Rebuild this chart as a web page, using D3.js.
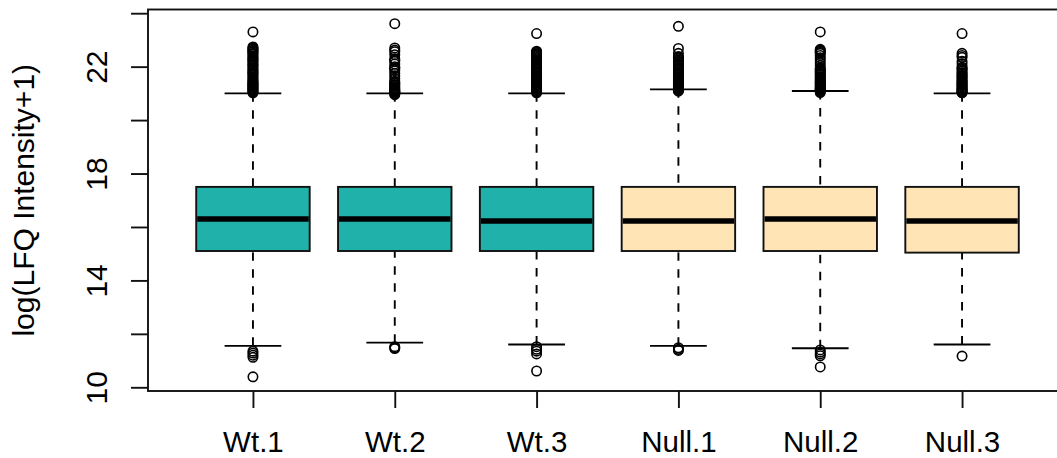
<!DOCTYPE html>
<html>
<head>
<meta charset="utf-8">
<title>LFQ intensity boxplot</title>
<script src="https://d3js.org/d3.v7.min.js"></script>
<style>
html, body {
	margin: 0;
	padding: 0;
	background: #fff;
}
#chart text {
	font-family: "Liberation Sans", Arial, sans-serif;
	fill: #000;
}
</style>
</head>
<body>
<div id="chart"></div>
<script>
	// sample names and their group
	var samples = ["Wt.1", "Wt.2", "Wt.3", "Null.1", "Null.2", "Null.3"];
	var groups = ["Wt", "Wt", "Wt", "Null", "Null", "Null"];

	// five-number summaries
	var whiskerLow = [11.55, 11.67, 11.60, 11.55, 11.46, 11.60];
	var q1 = [15.10, 15.10, 15.10, 15.10, 15.10, 15.04];
	var medians = [16.30, 16.30, 16.22, 16.22, 16.30, 16.22];
	var q3 = [17.50, 17.50, 17.50, 17.50, 17.50, 17.50];
	var whiskerHigh = [21.00, 21.00, 21.00, 21.15, 21.09, 21.00];

	// outliers, one list per sample
	var outliers = [
		[23.30, 22.74, 22.70, 22.66, 22.62, 22.58, 22.55, 22.50, 22.46, 22.40, 22.35, 22.30, 22.26, 22.22,
		 22.16, 22.10, 22.06, 22.02, 21.95, 21.90, 21.85, 21.80, 21.76, 21.72, 21.66, 21.60, 21.55, 21.50,
		 21.45, 21.41, 21.38, 21.35, 21.32, 21.28, 21.25, 21.22, 21.18, 21.15, 21.12, 21.08, 21.05, 21.02,
		 11.35, 11.28, 11.20, 11.12, 10.39],
		[23.61, 22.70, 22.62, 22.56, 22.45, 22.30, 22.24, 22.20, 22.10, 22.00, 21.96, 21.92, 21.85, 21.75,
		 21.65, 21.55, 21.45, 21.40, 21.38, 21.33, 21.30, 21.26, 21.22, 21.18, 21.15, 21.12, 21.10, 21.08,
		 21.06, 21.04, 21.03, 21.01, 20.98, 20.95,
		 11.52, 11.48, 11.45],
		[23.24, 22.58, 22.55, 22.52, 22.48, 22.45, 22.41, 22.38, 22.34, 22.30, 22.26, 22.22, 22.15, 22.10,
		 22.05, 21.98, 21.94, 21.90, 21.85, 21.80, 21.75, 21.70, 21.66, 21.62, 21.58, 21.55, 21.51, 21.48,
		 21.44, 21.40, 21.36, 21.33, 21.30, 21.27, 21.23, 21.20, 21.17, 21.14, 21.11, 21.09, 21.05, 21.02,
		 11.52, 11.42, 11.35, 11.25, 10.61],
		[23.51, 22.68, 22.50, 22.38, 22.34, 22.30, 22.25, 22.20, 22.15, 22.10, 22.06, 22.02, 21.95, 21.90,
		 21.85, 21.78, 21.74, 21.70, 21.66, 21.62, 21.58, 21.55, 21.51, 21.48, 21.45, 21.42, 21.39, 21.36,
		 21.33, 21.30, 21.27, 21.25, 21.22, 21.20, 21.17, 21.14, 21.11, 21.08,
		 11.48, 11.42, 11.38],
		[23.30, 22.65, 22.61, 22.58, 22.54, 22.50, 22.42, 22.33, 22.25, 22.15, 22.05, 21.95, 21.91, 21.88,
		 21.84, 21.80, 21.76, 21.72, 21.68, 21.63, 21.59, 21.55, 21.51, 21.47, 21.43, 21.40, 21.36, 21.33,
		 21.30, 21.26, 21.23, 21.20, 21.17, 21.15, 21.13, 21.11, 21.07, 21.03,
		 11.40, 11.32, 11.25, 11.18, 10.76],
		[23.24, 22.50, 22.42, 22.35, 22.20, 22.10, 21.98, 21.94, 21.90, 21.84, 21.78, 21.73, 21.68, 21.64,
		 21.60, 21.55, 21.50, 21.46, 21.42, 21.38, 21.35, 21.31, 21.28, 21.24, 21.20, 21.17, 21.14, 21.11,
		 21.08, 21.06, 21.04, 21.02,
		 11.17]
	];

	var yTicks = [10, 12, 14, 16, 18, 20, 22, 24];
	var yLabels = [10, 14, 18, 22];

	var width = 1057;
	var height = 458;
	var plot = {left: 148, right: 1067, top: 9.5, bottom: 391};
	var lw = 1.9;

	var colorScale = d3.scaleOrdinal()
		.domain(["Wt", "Null"])
		.range(["#20b2aa", "#ffe4b5"]);

	var boxes = samples.map((s, i) => ({
		name: s, pos: i + 1, group: groups[i],
		lo: whiskerLow[i], q1: q1[i], med: medians[i], q3: q3[i], hi: whiskerHigh[i],
		out: outliers[i]
	}));

	// R style ranges: 4% padding around the data / the box positions
	var allVals = d3.merge([whiskerLow, whiskerHigh, d3.merge(outliers)]);
	var yMin = d3.min(allVals), yMax = d3.max(allVals);
	var yPad = (yMax - yMin) * 0.04;
	var y = d3.scaleLinear()
		.domain([yMin - yPad, yMax + yPad])
		.range([plot.bottom, plot.top]);

	var xPad = samples.length * 0.04;
	var x = d3.scaleLinear()
		.domain([0.5 - xPad, samples.length + 0.5 + xPad])
		.range([plot.left, plot.right]);
	var boxW = (x(1) - x(0)) * 0.8;
	var capW = boxW / 2;

	var svg = d3.select("#chart").append("svg")
		.attr("width", width)
		.attr("height", height);

	// frame
	svg.append("rect")
		.attr("x", plot.left)
		.attr("y", plot.top)
		.attr("width", plot.right - plot.left)
		.attr("height", plot.bottom - plot.top)
		.attr("fill", "none")
		.attr("stroke", "#111")
		.attr("stroke-width", lw);

	// y axis
	var yAxis = svg.append("g")
		.attr("transform", `translate(${plot.left},0)`)
		.call(d3.axisLeft(y).tickValues(yTicks).tickSize(17).tickFormat(d => yLabels.includes(d) ? d : ""));
	yAxis.select(".domain").remove();
	yAxis.selectAll(".tick line").attr("stroke", "#111").attr("stroke-width", lw);
	yAxis.selectAll(".tick text")
		.attr("font-size", 30)
		.attr("text-anchor", "middle")
		.attr("x", null).attr("dy", null)
		.attr("transform", "translate(-41,0) rotate(-90)");

	// x axis
	var xAxis = svg.append("g")
		.attr("transform", `translate(0,${plot.bottom})`)
		.call(d3.axisBottom(x).tickValues(boxes.map(d => d.pos)).tickSize(17)
			.tickFormat((d, i) => samples[i]));
	xAxis.select(".domain").remove();
	xAxis.selectAll(".tick line").attr("stroke", "#111").attr("stroke-width", lw);
	xAxis.selectAll(".tick text")
		.attr("font-size", 29.5)
		.attr("y", 60.5)
		.attr("dy", null);

	// y axis title
	svg.append("text")
		.attr("transform", `translate(34,${(plot.top + plot.bottom) / 2}) rotate(-90)`)
		.attr("text-anchor", "middle")
		.attr("font-size", 30)
		.text("log(LFQ Intensity+1)");

	var g = svg.selectAll("g.box")
		.data(boxes)
		.join("g")
		.attr("class", "box")
		.attr("transform", d => `translate(${x(d.pos)},0)`);

	// dashed whiskers, drawn from the whisker end towards the hinge
	g.append("line")
		.attr("y1", d => y(d.hi)).attr("y2", d => y(d.q3))
		.attr("stroke", "#000").attr("stroke-width", lw)
		.attr("stroke-dasharray", "8.5,8.5");
	g.append("line")
		.attr("y1", d => y(d.lo)).attr("y2", d => y(d.q1))
		.attr("stroke", "#000").attr("stroke-width", lw)
		.attr("stroke-dasharray", "8.5,8.5");

	// staples
	g.selectAll("line.cap")
		.data(d => [d.lo, d.hi])
		.join("line")
		.attr("class", "cap")
		.attr("x1", -capW / 2).attr("x2", capW / 2)
		.attr("y1", d => y(d)).attr("y2", d => y(d))
		.attr("stroke", "#000").attr("stroke-width", lw);

	// boxes
	g.append("rect")
		.attr("x", -boxW / 2)
		.attr("width", boxW)
		.attr("y", d => y(d.q3))
		.attr("height", d => y(d.q1) - y(d.q3))
		.attr("fill", d => colorScale(d.group))
		.attr("stroke", "#111")
		.attr("stroke-width", lw);

	// medians
	g.append("line")
		.attr("x1", -boxW / 2 + 1).attr("x2", boxW / 2 - 1)
		.attr("y1", d => y(d.med)).attr("y2", d => y(d.med))
		.attr("stroke", "#000").attr("stroke-width", 5.5);

	// outliers
	g.selectAll("circle")
		.data(d => d.out)
		.join("circle")
		.attr("cy", d => y(d))
		.attr("r", 4.7)
		.attr("fill", "none")
		.attr("stroke", "#000")
		.attr("stroke-width", 1.6);
</script>
</body>
</html>
